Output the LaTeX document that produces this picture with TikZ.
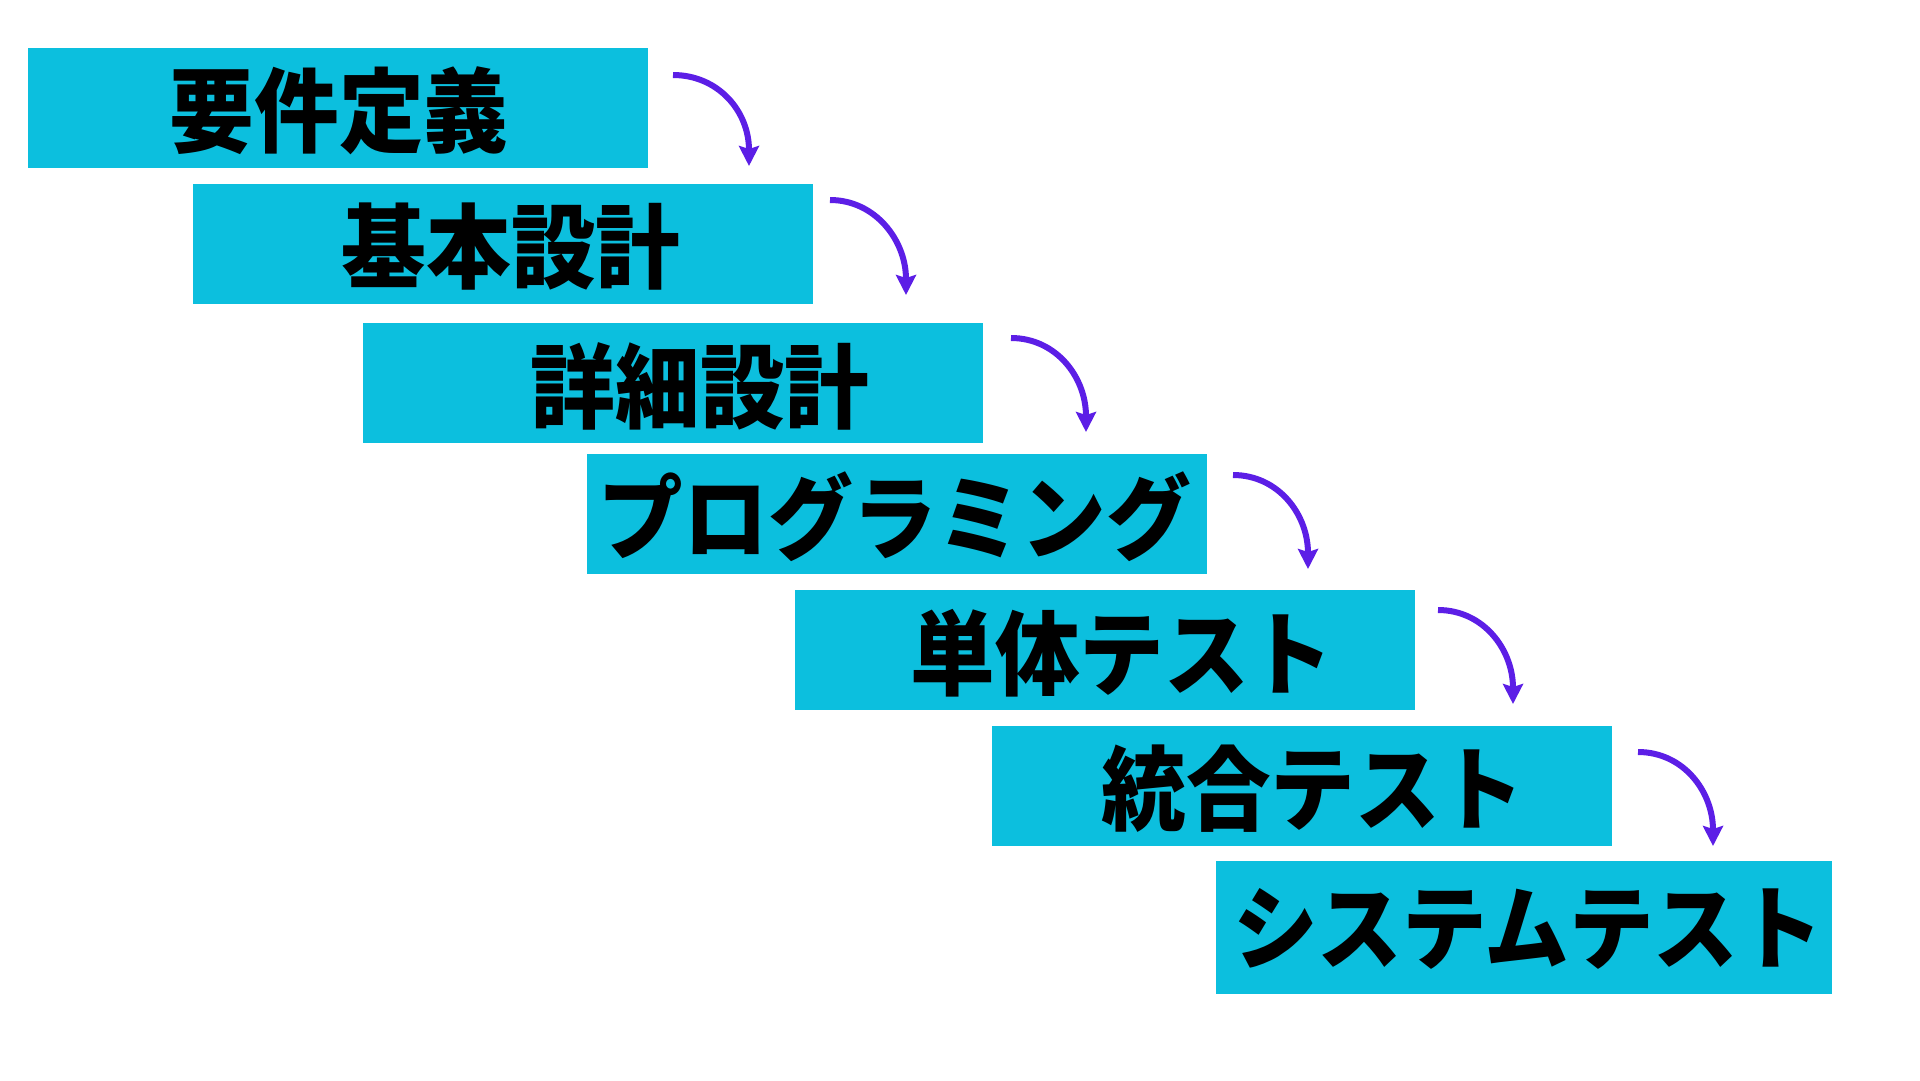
\documentclass[tikz,border=0pt]{standalone}
\usepackage{fontspec}
\newfontfamily\jp{Noto Sans CJK JP}[FakeStretch=0.92]
\usetikzlibrary{arrows.meta,calc}
\definecolor{boxcyan}{RGB}{12,191,222}
\definecolor{arrowpurple}{RGB}{92,30,230}
\tikzset{
  stepbox/.style={fill=boxcyan,draw=none,minimum width=620pt,minimum height=120pt,inner sep=0pt,anchor=north west},
  steptext/.style={font=\jp\bfseries\fontsize{92}{92}\selectfont,inner sep=0pt,text=black},
  flowarrow/.style={draw=arrowpurple,line width=6pt,-{Stealth[length=20pt,width=20pt,inset=3pt]}}
}
\begin{document}
\begin{tikzpicture}[x=1pt,y=-1pt]
\useasboundingbox (0,0) rectangle (1920,1080);
\node[stepbox] (b1) at (28,48) {};
\node[stepbox] (b2) at (193,184) {};
\node[stepbox] (b3) at (363,323) {};
\node[stepbox] (b4) at (587,454) {};
\node[stepbox] (b5) at (795,590) {};
\node[stepbox] (b6) at (992,726) {};
\node[stepbox,minimum width=616pt,minimum height=133pt] (b7) at (1216,861) {};
\node[steptext] (t1) at (339,111) {要件定義};
\node[steptext] (t2) at (511,247) {基本設計};
\node[steptext] (t3) at (700,386) {詳細設計};
\node[steptext] (t4) at (895,517) {プログラミング};
\node[steptext] (t5) at (1122,653) {単体テスト};
\node[steptext] (t6) at (1313,789) {統合テスト};
\node[steptext] (t7) at (1528,929) {システムテスト};
\coordinate (s1) at (673,75);   \coordinate (e1) at (749,166);
\coordinate (s2) at (830,200);  \coordinate (e2) at (906,295);
\coordinate (s3) at (1011,338); \coordinate (e3) at (1086,432);
\coordinate (s4) at (1233,475); \coordinate (e4) at (1308,569);
\coordinate (s5) at (1438,610); \coordinate (e5) at (1513,704);
\coordinate (s6) at (1638,752); \coordinate (e6) at (1713,846);
\foreach \i in {1,...,6}{
  \draw[flowarrow] (s\i) .. controls ($(s\i)+(45,0)$) and ($(e\i)+(0,-55)$) .. (e\i);
}
\end{tikzpicture}
\end{document}
